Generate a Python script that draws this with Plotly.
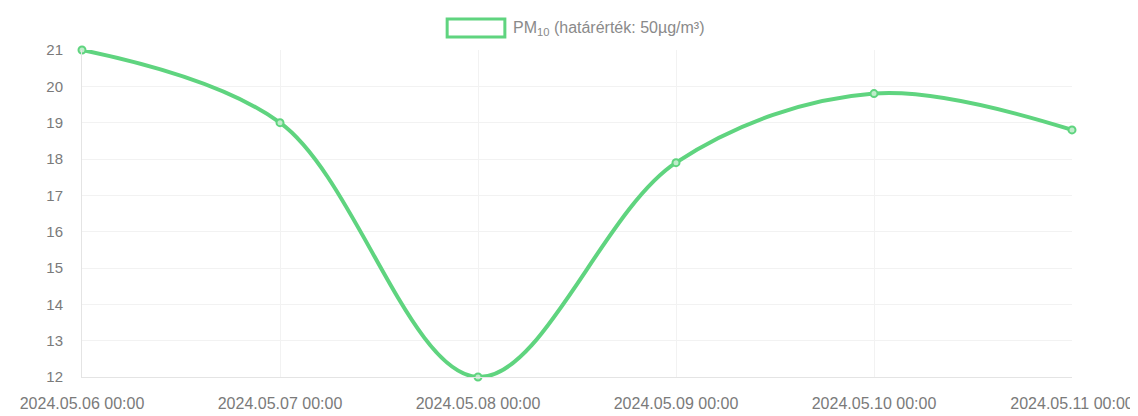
import plotly.graph_objects as go

dates = ["2024.05.06 00:00", "2024.05.07 00:00", "2024.05.08 00:00",
         "2024.05.09 00:00", "2024.05.10 00:00", "2024.05.11 00:00"]
pm10 = [21, 19, 12, 17.9, 19.8, 18.8]
yticks = list(range(12, 22))
legend_label = "PM<sub>10</sub> (határérték: 50µg/m³)"

green = "#5fd47f"
xidx = list(range(len(dates)))

fig = go.Figure()
fig.add_trace(go.Scatter(
    x=xidx, y=pm10, mode="lines+markers",
    line=dict(color=green, width=4, shape="spline", smoothing=1.0),
    marker=dict(size=7, color="#bfeccb", line=dict(color=green, width=2)),
    cliponaxis=False, showlegend=False, hoverinfo="x+y",
))

# plot area in page pixels: x 80..1075, y 50..378 (body margin of 8px compensated)
fig.update_layout(
    width=1138, height=416,
    margin=dict(l=72, r=71, t=42, b=46),
    paper_bgcolor="white", plot_bgcolor="white",
    font=dict(family="Liberation Sans, Arial, sans-serif", color="#777", size=13),
    xaxis=dict(range=[0, len(dates) - 1], tickmode="array", tickvals=xidx, ticktext=dates,
               showgrid=True, gridcolor="#f2f2f2", zeroline=False,
               showline=True, linecolor="#e4e4e4", ticks="", ticklen=0,
               ticklabelstandoff=12,
               tickfont=dict(size=16, color="#7a7a7a")),
    yaxis=dict(range=[12, 21], tickmode="array", tickvals=yticks,
               showgrid=True, gridcolor="#f2f2f2", zeroline=False,
               showline=True, linecolor="#e4e4e4", ticks="", ticklabelstandoff=15,
               tickfont=dict(size=15, color="#7a7a7a")),
    shapes=[dict(type="rect", xref="paper", yref="paper",
                 x0=(447 - 80) / 995, x1=(505 - 80) / 995,
                 y0=(378 - 37) / 328, y1=(378 - 19) / 328,
                 line=dict(color=green, width=3), fillcolor="white")],
    annotations=[dict(text=legend_label, xref="paper", yref="paper",
                      x=(511 - 80) / 995, y=(378 - 28) / 328, xanchor="left", yanchor="middle",
                      showarrow=False, font=dict(size=16, color="#8a8a8a"))],
)

fig.write_html("out.html")
